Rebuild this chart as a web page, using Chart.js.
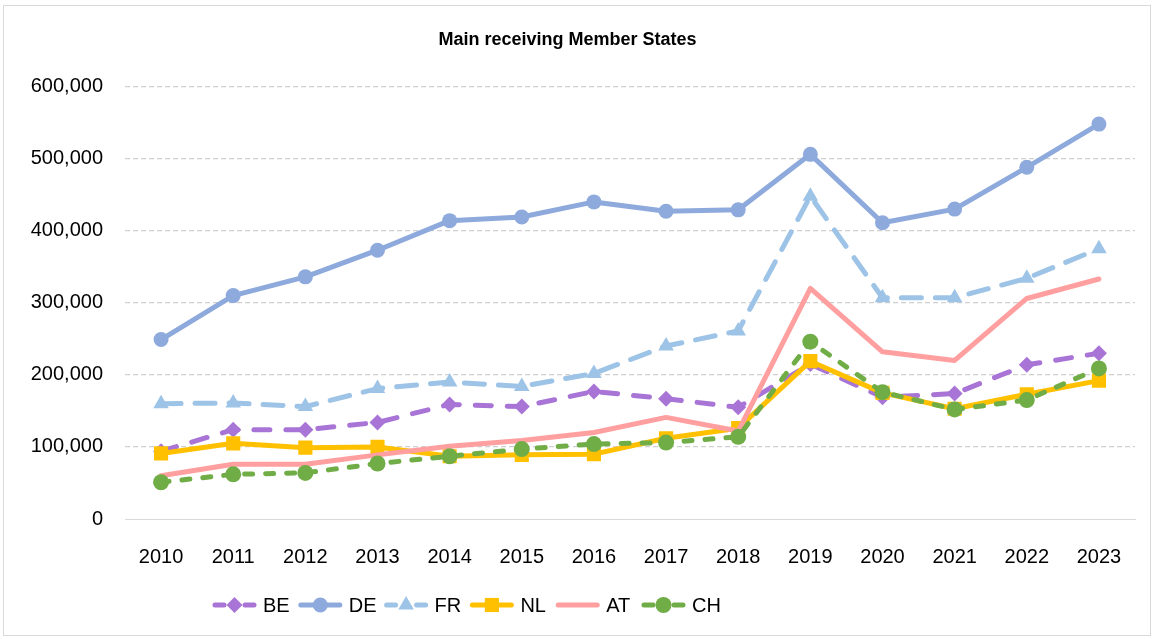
<!DOCTYPE html>
<html>
<head>
<meta charset="utf-8">
<title>Main receiving Member States</title>
<script src="https://cdn.jsdelivr.net/npm/chart.js@4/dist/chart.umd.min.js"></script>
<style>
    html, body { margin: 0; padding: 0; background: #fff; }
    #wrap { width: 1155px; height: 639px; position: relative; }
</style>
</head>
<body>
<div id="wrap"><canvas id="lineChart"></canvas></div>
<script>
const years = ["2010", "2011", "2012", "2013", "2014", "2015", "2016", "2017", "2018", "2019", "2020", "2021", "2022", "2023"];
const yTicks = [0, 100000, 200000, 300000, 400000, 500000, 600000];

const be = [94000, 124000, 124000, 134000, 159000, 156000, 177000, 167000, 155000, 215000, 169000, 174000, 214000, 230000];
const de = [249000, 310000, 336000, 373000, 414000, 419000, 440000, 427000, 429000, 506000, 411000, 430000, 488000, 548000];
const fr = [160000, 161000, 156000, 181000, 190000, 184000, 202000, 240000, 261000, 448000, 307000, 307000, 334000, 375000];
const nl = [91000, 105000, 99000, 100000, 87000, 89000, 90000, 112000, 126000, 219000, 175000, 153000, 173000, 192000];
const at = [60000, 76000, 76000, 89000, 101000, 109000, 120000, 141000, 122000, 320000, 232000, 220000, 306000, 333000];
const ch = [51000, 62000, 64000, 77000, 87000, 97000, 104000, 106000, 114000, 246000, 176000, 152000, 165000, 209000];

const FONT = "'Liberation Sans', Arial, sans-serif";

function series(label, data, color, style, radius, dash, order) {
    return {
        label: label,
        data: data,
        borderColor: color,
        backgroundColor: color,
        borderWidth: 5,
        borderDash: dash,
        borderCapStyle: "round",
        borderJoinStyle: "round",
        pointStyle: style,
        pointRadius: radius,
        pointHoverRadius: radius,
        pointBorderWidth: 0,
        pointBackgroundColor: color,
        tension: 0,
        order: order,
    };
}

// frame around the chart + Excel-like legend (line with marker)
const decor = {
    id: "decor",
    afterDraw(chart) {
        const ctx = chart.ctx;
        ctx.save();
        ctx.strokeStyle = "#d9d9d9";
        ctx.lineWidth = 1;
        ctx.setLineDash([]);
        ctx.strokeRect(3.5, 5.5, 1147, 630);

        const y = 605;
        chart.data.datasets.forEach((ds, i) => {
            const x0 = 212 + i * 85.8;
            ctx.strokeStyle = ds.borderColor;
            ctx.fillStyle = ds.borderColor;
            ctx.lineWidth = 5;
            ctx.lineCap = "round";
            ctx.setLineDash([]);
            ctx.beginPath();
            if (ds.borderDash.length && ds.pointRadius) {
                ctx.moveTo(x0 + 3, y); ctx.lineTo(x0 + 12, y);
                ctx.moveTo(x0 + 33, y); ctx.lineTo(x0 + 42, y);
            } else {
                ctx.moveTo(x0 + 3, y); ctx.lineTo(x0 + 42, y);
            }
            ctx.stroke();
            if (ds.pointRadius) {
                Chart.helpers.drawPoint(ctx, {
                    pointStyle: ds.pointStyle, radius: ds.pointRadius, rotation: 0, borderWidth: 0,
                }, x0 + 22.5, y);
            }
            ctx.fillStyle = "#000";
            ctx.font = "20px " + FONT;
            ctx.textBaseline = "middle";
            ctx.textAlign = "left";
            ctx.fillText(ds.label, x0 + 51, y + 1);
        });
        ctx.restore();
    },
};

new Chart(document.getElementById("lineChart"), {
    type: "line",
    data: {
        labels: years,
        datasets: [
            series("BE", be, "#a874d6", "rectRot", 8, [16, 16], 5),
            series("DE", de, "#8eaadc", "circle", 7.5, [], 4),
            series("FR", fr, "#9dc3e6", "triangle", 9, [20, 14], 3),
            series("NL", nl, "#ffc000", "rect", 10, [], 2),
            series("AT", at, "#ff9f9f", "circle", 0, [], 1),
            series("CH", ch, "#70ad47", "circle", 8, [8, 13], 0),
        ],
    },
    plugins: [decor],
    options: {
        responsive: true,
        maintainAspectRatio: false,
        animation: false,
        layout: { padding: { left: 0, right: 20, top: 0, bottom: 0 } },
        plugins: {
            legend: { display: false },
            tooltip: { enabled: false },
            title: {
                display: true,
                text: "Main receiving Member States",
                color: "#000",
                font: { family: FONT, size: 18, weight: "bold" },
                padding: { top: 29, bottom: 36 },
            },
        },
        scales: {
            x: {
                offset: true,
                grid: { display: false },
                border: { display: true, color: "#d9d9d9", width: 1 },
                ticks: { color: "#000", font: { family: FONT, size: 20 }, padding: 18, maxRotation: 0 },
                afterFit(s) { s.height = 120; },
            },
            y: {
                min: 0,
                max: 600000,
                afterBuildTicks(s) { s.ticks = yTicks.map(v => ({ value: v })); },
                grid: {
                    color: c => (c.tick && c.tick.value === 0 ? "rgba(0,0,0,0)" : "#d0d0d0"),
                    lineWidth: 1.2,
                    drawTicks: false,
                },
                border: { display: false, dash: [5, 3] },
                ticks: {
                    color: "#000",
                    font: { family: FONT, size: 20 },
                    padding: 22,
                    callback: v => v.toLocaleString("en-US"),
                },
                afterFit(s) { s.width = 125; },
            },
        },
    },
});
</script>
</body>
</html>
